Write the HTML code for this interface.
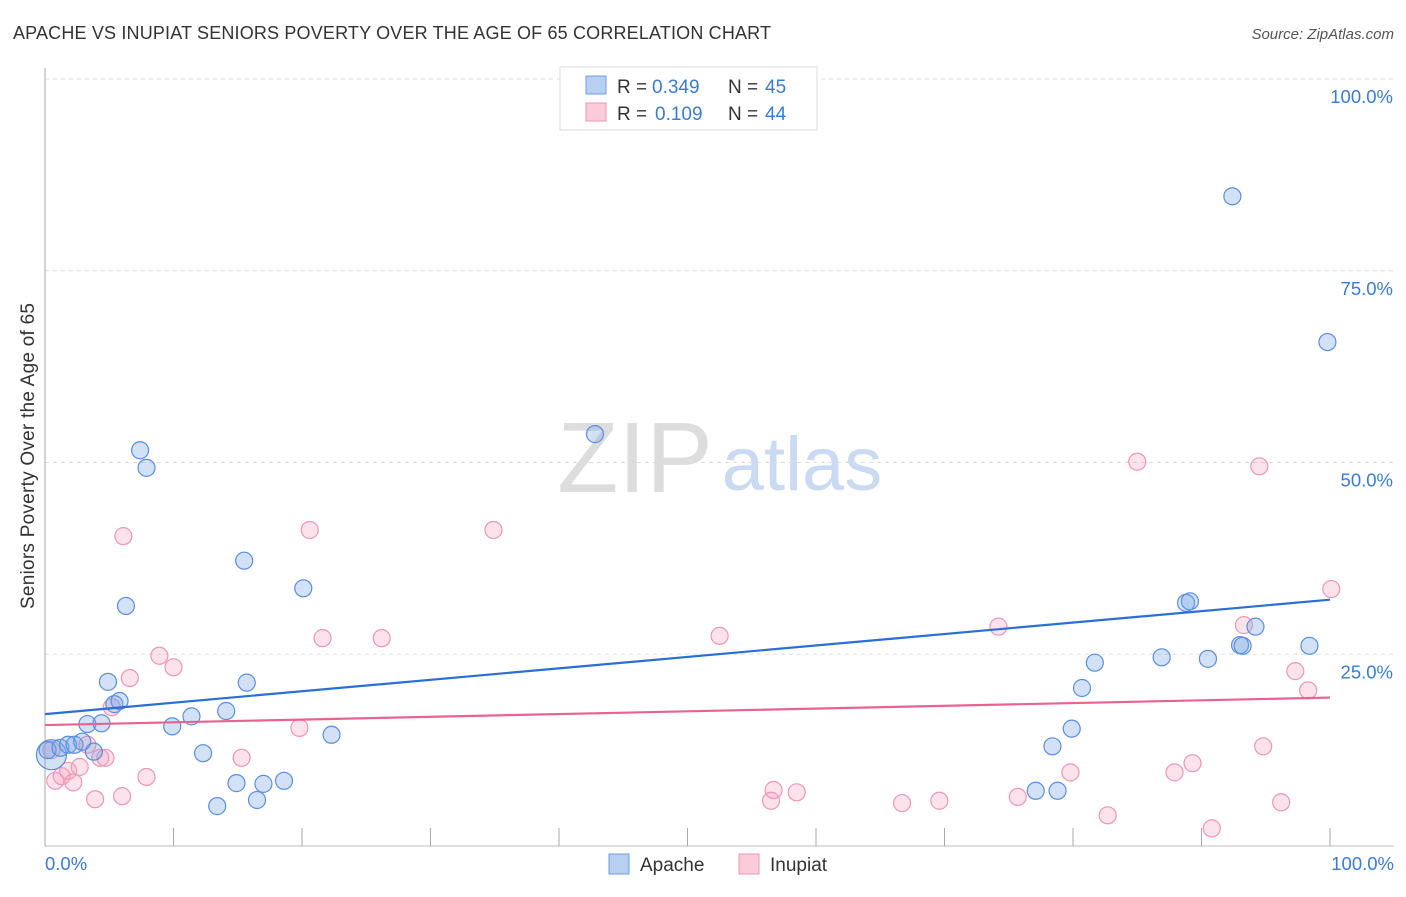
<!DOCTYPE html>
<html><head><meta charset="utf-8"><style>
body{margin:0;background:#fff;font-family:"Liberation Sans",sans-serif;}
svg text{font-family:"Liberation Sans",sans-serif;}
</style></head><body>
<svg id="c" width="1406" height="892" viewBox="0 0 1406 892" xmlns="http://www.w3.org/2000/svg">
<text x="13" y="39" font-size="18" fill="#333" textLength="758">APACHE VS INUPIAT SENIORS POVERTY OVER THE AGE OF 65 CORRELATION CHART</text>
<text x="1394" y="39" font-size="15" fill="#555" font-style="italic" text-anchor="end">Source: ZipAtlas.com</text>
<text x="635" y="492" font-size="100" fill="#ddd" font-family="Liberation Serif,serif" text-anchor="middle">ZIP</text>
<text x="802" y="490" font-size="76" fill="#c9daf2" text-anchor="middle">atlas</text>
<g id="grid"></g>
<g id="pts"></g>
<g id="lines"></g>
<text transform="translate(34,456) rotate(-90)" font-size="19" fill="#333" text-anchor="middle" textLength="306">Seniors Poverty Over the Age of 65</text>
<g>
<rect x="560" y="67" width="257" height="63" fill="#fff" stroke="#ddd"/>
<rect x="586" y="76" width="20" height="18" fill="#b7d0f2" stroke="#6f9de0"/>
<text x="617" y="93" font-size="19" fill="#333">R = </text><text x="652" y="93" font-size="19" fill="#3a7bd5">0.349</text>
<text x="728" y="93" font-size="19" fill="#333">N = </text><text x="765" y="93" font-size="19" fill="#3a7bd5">45</text>
<rect x="586" y="103" width="20" height="18" fill="#fbcbd9" stroke="#ec97b3"/>
<text x="617" y="120" font-size="19" fill="#333">R = </text><text x="655" y="120" font-size="19" fill="#3a7bd5">0.109</text>
<text x="728" y="120" font-size="19" fill="#333">N = </text><text x="765" y="120" font-size="19" fill="#3a7bd5">44</text>
</g>
<g>
<rect x="609" y="854" width="20" height="20" fill="#b7d0f2" stroke="#6f9de0"/>
<text x="640" y="871" font-size="19" fill="#333">Apache</text>
<rect x="739" y="854" width="20" height="20" fill="#fbcbd9" stroke="#ec97b3"/>
<text x="770" y="871" font-size="19" fill="#333">Inupiat</text>
</g>
</svg>
<script>
const apacheX=[0.5,0.2,1.2,1.8,2.3,2.9,3.3,3.8,4.4,4.9,5.4,5.8,6.3,7.4,7.9,9.9,11.4,12.3,13.4,14.1,14.9,15.5,15.7,16.5,17.0,18.6,20.1,22.3,42.8,77.1,78.4,78.8,79.9,80.7,81.7,86.9,88.8,89.1,90.5,93.0,93.2,94.2,92.4,98.4,99.8];
const apacheY=[11.9,12.5,12.8,13.2,13.2,13.6,15.9,12.3,16.0,21.4,18.5,18.9,31.3,51.6,49.3,15.6,16.9,12.1,5.2,17.6,8.2,37.2,21.3,6.0,8.1,8.5,33.6,14.5,53.7,7.2,13.0,7.2,15.3,20.6,23.9,24.6,31.7,31.9,24.4,26.2,26.1,28.6,84.7,26.1,65.7];
const inupiatX=[0.8,1.3,1.8,2.2,2.7,3.3,3.9,4.3,4.7,5.2,6.0,6.1,6.6,7.9,8.9,10.0,15.3,19.8,20.6,21.6,26.2,34.9,52.5,56.5,56.7,58.5,66.7,69.6,74.2,75.7,79.8,82.7,85.0,87.9,89.3,90.8,93.3,94.5,94.8,96.2,97.3,98.3,100.1,0.5];
const inupiatY=[8.5,9.1,9.8,8.3,10.3,13.2,6.1,11.5,11.5,18.1,6.5,40.4,21.9,9.0,24.8,23.3,11.5,15.4,41.2,27.1,27.1,41.2,27.4,5.9,7.3,7.0,5.6,5.9,28.6,6.4,9.6,4.0,50.1,9.6,10.8,2.3,28.8,49.5,13.0,5.7,22.8,20.3,33.5,12.5];
const yTicks=[25,50,75,100];
const yTickLabels=["25.0%","50.0%","75.0%","100.0%"];
const xTicks=[0,10,20,30,40,50,60,70,80,90,100];
const NS="http://www.w3.org/2000/svg";
const X=v=>45+12.85*v, Y=v=>846-7.67*v;
function mk(t,a,p){const e=document.createElementNS(NS,t);for(const k in a)e.setAttribute(k,a[k]);p.appendChild(e);return e;}
const grid=document.getElementById('grid');
yTicks.forEach((t,i)=>{
 const l=mk('line',{x1:45,x2:1394,y1:Y(t),y2:Y(t),stroke:'#ddd','stroke-dasharray':'4,4'},grid);
 
 
 const tx=mk('text',{x:1393,y:Y(t)+24,'font-size':18.5,fill:'#3a7bd5','text-anchor':'end'},grid);
 tx.textContent=yTickLabels[i];
 
 
});
const ax=mk('line',{x1:45,x2:45,y1:68,y2:846,stroke:'#aaa'},grid);


const bx=mk('line',{x1:45,x2:1394,y1:846,y2:846,stroke:'#bbb'},grid);


xTicks.forEach(t=>{const l=mk('line',{x1:X(t),x2:X(t),y1:828,y2:846,stroke:'#aaa'},grid);
 
 });
[[0,'0.0%','start',45],[100,'100.0%','end',1394]].forEach(([v,s,a,x])=>{const t=mk('text',{x:x,y:870,'font-size':18.5,fill:'#3a7bd5','text-anchor':a},grid);t.textContent=s;
 
 });
const pts=document.getElementById('pts');
function series(xs,ys,fill,stroke,name){xs.forEach((x,i)=>{const c=mk('circle',{cx:X(x),cy:Y(ys[i]),r:(i==0&&name=='apache-point')?15:8.5,fill:fill,stroke:stroke,'stroke-width':1.2},pts);
 
 });}
series(inupiatX,inupiatY,'rgba(244,160,188,0.3)','#ec97b3','inupiat-point');
series(apacheX,apacheY,'rgba(120,165,230,0.33)','#5b8fdc','apache-point');
function reg(xs,ys){const n=xs.length;let mx=0,my=0;xs.forEach((x,i)=>{mx+=x;my+=ys[i];});mx/=n;my/=n;let sxy=0,sxx=0;xs.forEach((x,i)=>{sxy+=(x-mx)*(ys[i]-my);sxx+=(x-mx)*(x-mx);});const b=sxy/sxx;return [my-b*mx,b];}
const lines=document.getElementById('lines');
[[apacheX,apacheY,'#2a6fd6','apache-trendline'],[inupiatX,inupiatY,'#e8638f','inupiat-trendline']].forEach(([xs,ys,c,n])=>{const [a,b]=reg(xs,ys);const l=mk('line',{x1:X(0),y1:Y(a),x2:X(100),y2:Y(a+100*b),stroke:c,'stroke-width':2.2},lines);
 
 });
</script>
</body></html>
